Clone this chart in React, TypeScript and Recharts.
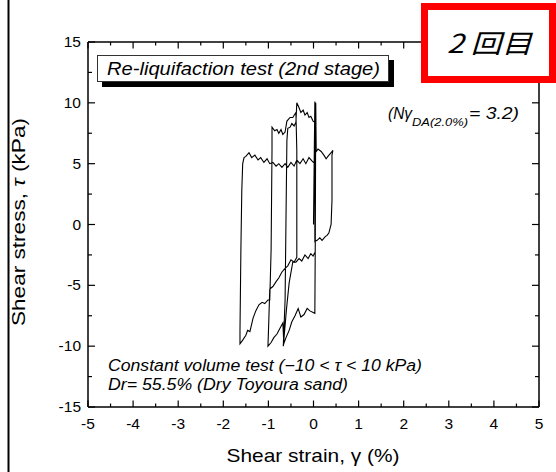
import { LineChart, Line, XAxis, YAxis } from 'recharts'

// shear strain (%) along the recorded path
const strain = [
  0.0, 0.03, 0.03, 0.08, 0.14, 0.19, 0.26, 0.3, 0.34, 0.39, 0.41, 0.41, 0.43,
  0.39, 0.32, 0.28, 0.23, 0.17, 0.1, 0.06, 0.05, 0.04, 0.03,
  -0.08, -0.14, -0.21, -0.28, -0.34, -0.41, -0.48, -0.54, -0.61, -0.66, -0.67,
  -0.63, -0.61, -0.59, -0.57,
  -0.52, -0.48, -0.43, -0.39, -0.37, -0.32, -0.28, -0.23, -0.19, -0.14, -0.1, -0.06, -0.01, 0.03, 0.03,
  -0.03, -0.1, -0.17, -0.23, -0.3, -0.37, -0.43, -0.5, -0.57, -0.63, -0.7, -0.77, -0.83, -0.9, -0.97,
  -1.03, -1.1, -1.17, -1.23, -1.3, -1.37, -1.43, -1.5, -1.54, -1.57,
  -1.59, -1.61, -1.63, -1.63,
  -1.57, -1.5, -1.46, -1.41, -1.34, -1.28, -1.21, -1.14, -1.08, -1.01, -0.97,
  -0.94, -0.92, -0.92,
  -0.86, -0.81, -0.77, -0.72, -0.68, -0.63,
  -0.59, -0.52, -0.46, -0.39,
  -0.37, -0.37, -0.37,
  -0.43, -0.5, -0.57, -0.63, -0.7, -0.77, -0.83, -0.9, -0.97, -0.99, -1.01,
  -0.94, -0.88, -0.81, -0.74, -0.68, -0.66, -0.6, -0.54, -0.46,
  -0.39, -0.32, -0.26, -0.19, -0.12, -0.06, -0.01, 0.03,
]

// shear stress (kPa) along the same path
const stress = [
  0.0, 10.1, -1.4, -1.3, -1.1, -1.3, -1.0, -0.9, -0.7, 0.0, 2.0, 5.7, 6.1,
  5.9, 5.6, 5.4, 5.7, 6.0, 6.2, 6.0, 10.0, -1.0, -7.3,
  -7.1, -6.9, -7.4, -7.6, -6.9, -7.5, -8.0, -8.7, -9.3, -9.8, -10.0,
  -6.2, 0.4, 6.9, 7.9,
  8.0, 8.3, 8.1, 8.4, 10.0, 9.6, 9.2, 9.4, 9.0, 9.2, 8.8, 8.9, 8.5, 8.4, 5.0,
  5.2, 5.5, 5.0, 5.4, 5.0, 5.3, 4.8, 5.1, 4.7, 5.0, 4.7, 5.0, 4.8, 5.1, 5.0,
  5.4, 5.1, 5.5, 5.3, 5.7, 5.5, 5.9, 5.6, 5.5, 5.0,
  2.8, -2.1, -8.7, -9.8,
  -9.5, -9.1, -8.7, -8.8, -7.7, -7.1, -6.6, -6.4, -6.5, -6.2, -6.2,
  -2.1, 6.1, 8.0,
  7.7, 7.8, 7.5, 7.8, 7.4, 7.6,
  8.5, 8.8, 8.8, 9.2,
  6.1, 0.4, -2.7,
  -3.1, -2.9, -3.4, -3.6, -3.9, -4.4, -4.7, -5.1, -5.3, -7.8, -10.0,
  -9.7, -9.3, -9.0, -8.5, -8.1, -9.6, -7.0, -4.8, -3.1,
  -3.1, -2.8, -3.0, -2.5, -2.8, -2.4, -2.6, -2.3,
]

const xTicks = [-5, -4.5, -4, -3.5, -3, -2.5, -2, -1.5, -1, -0.5, 0, 0.5, 1, 1.5, 2, 2.5, 3, 3.5, 4, 4.5, 5]
const yTicks = [-15, -12.5, -10, -7.5, -5, -2.5, 0, 2.5, 5, 7.5, 10, 12.5, 15]

const loop = strain.map((x, i) => ({ x, y: stress[i] }))
const frame = [{ x: -5, y: -15 }, { x: 5, y: 15 }]

const tickFont = "'Liberation Sans', Arial, sans-serif"
const noteFont = "'Liberation Sans', Arial, sans-serif"

function BottomTick(props: any) {
  const { x, y, payload } = props
  const major = Number.isInteger(payload.value)
  return (
    <g>
      <line x1={x} y1={y} x2={x} y2={y - (major ? 6.5 : 3.5)} stroke="#000" strokeWidth={1.2} />
      {major && (
        <text x={x} y={y + 22} textAnchor="middle" fontSize={15.5} fontFamily={tickFont} fill="#000">
          {payload.value}
        </text>
      )}
    </g>
  )
}

function TopTick(props: any) {
  const { x, y, payload } = props
  const major = Number.isInteger(payload.value)
  return <line x1={x} y1={y} x2={x} y2={y + (major ? 6.5 : 3.5)} stroke="#000" strokeWidth={1.2} />
}

function LeftTick(props: any) {
  const { x, y, payload } = props
  const major = payload.value % 5 === 0
  return (
    <g>
      <line x1={x} y1={y} x2={x + (major ? 7 : 4)} y2={y} stroke="#000" strokeWidth={1.2} />
      {major && (
        <text x={x - 7} y={y + 5} textAnchor="end" fontSize={15.5} fontFamily={tickFont} fill="#000">
          {payload.value}
        </text>
      )}
    </g>
  )
}

function RightTick(props: any) {
  const { x, y, payload } = props
  const major = payload.value % 5 === 0
  return <line x1={x} y1={y} x2={x - (major ? 7 : 4)} y2={y} stroke="#000" strokeWidth={1.2} />
}

export default function App() {
  return (
    <div style={{ position: 'absolute', left: 0, top: 0, width: 556, height: 472, background: '#fff' }}>
      <LineChart width={556} height={472} margin={{ top: 41, right: 16, bottom: 64, left: 28 }}>
        <XAxis
          xAxisId="bottom"
          type="number"
          dataKey="x"
          domain={[-5, 5]}
          ticks={xTicks}
          interval={0}
          height={1}
          tickSize={0}
          tickMargin={0}
          tickLine={false}
          axisLine={{ stroke: '#000', strokeWidth: 1.5 }}
          tick={(p: any) => <BottomTick {...p} />}
        />
        <XAxis
          xAxisId="top"
          orientation="top"
          type="number"
          dataKey="x"
          domain={[-5, 5]}
          ticks={xTicks}
          interval={0}
          height={1}
          tickSize={0}
          tickMargin={0}
          tickLine={false}
          axisLine={{ stroke: '#000', strokeWidth: 1.5 }}
          tick={(p: any) => <TopTick {...p} />}
        />
        <YAxis
          yAxisId="left"
          type="number"
          dataKey="y"
          domain={[-15, 15]}
          ticks={yTicks}
          interval={0}
          width={60}
          tickSize={0}
          tickMargin={0}
          tickLine={false}
          axisLine={{ stroke: '#000', strokeWidth: 1.5 }}
          tick={(p: any) => <LeftTick {...p} />}
        />
        <YAxis
          yAxisId="right"
          orientation="right"
          type="number"
          dataKey="y"
          domain={[-15, 15]}
          ticks={yTicks}
          interval={0}
          width={1}
          tickSize={0}
          tickMargin={0}
          tickLine={false}
          axisLine={{ stroke: '#000', strokeWidth: 1.5 }}
          tick={(p: any) => <RightTick {...p} />}
        />
        <Line
          xAxisId="top"
          yAxisId="right"
          data={frame}
          dataKey="y"
          stroke="none"
          dot={false}
          isAnimationActive={false}
        />
        <Line
          xAxisId="bottom"
          yAxisId="left"
          data={loop}
          dataKey="y"
          type="linear"
          stroke="#000"
          strokeWidth={1.1}
          dot={false}
          isAnimationActive={false}
        />
      </LineChart>

      <svg
        width={556}
        height={472}
        style={{ position: 'absolute', left: 0, top: 0, pointerEvents: 'none' }}
      >
        <line x1={8.5} y1={0} x2={8.5} y2={472} stroke="#000" strokeWidth={2} />

        <rect x={424.5} y={6.5} width={128} height={73} fill="#fff" stroke="#f00" strokeWidth={7} />
        <text
          x={447}
          y={53}
          fontSize={26}
          fontStyle="italic"
          fontFamily="'Noto Sans CJK JP', sans-serif"
          textLength={85}
          lengthAdjust="spacingAndGlyphs"
        >
          2 回目
        </text>

        <rect x={102} y={60} width={292} height={27} fill="#000" />
        <rect x={97.5} y={55.5} width={291} height={26} fill="#fff" stroke="#333" strokeWidth={1} />
        <text
          x={107}
          y={75}
          fontSize={18}
          fontStyle="italic"
          fontFamily={noteFont}
          textLength={273}
          lengthAdjust="spacingAndGlyphs"
        >
          Re-liquifaction test (2nd stage)
        </text>

        <text
          x={388}
          y={119}
          fontSize={17}
          fontStyle="italic"
          fontFamily={noteFont}
          textLength={24}
          lengthAdjust="spacingAndGlyphs"
        >
          (Nγ
        </text>
        <text
          x={412}
          y={126}
          fontSize={11}
          fontStyle="italic"
          fontFamily={noteFont}
          textLength={56}
          lengthAdjust="spacingAndGlyphs"
        >
          DA(2.0%)
        </text>
        <text
          x={469}
          y={119}
          fontSize={17}
          fontStyle="italic"
          fontFamily={noteFont}
          textLength={50}
          lengthAdjust="spacingAndGlyphs"
        >
          = 3.2)
        </text>

        <text
          x={108}
          y={371}
          fontSize={16}
          fontStyle="italic"
          fontFamily={noteFont}
          textLength={314}
          lengthAdjust="spacingAndGlyphs"
        >
          Constant volume test (−10 &lt; τ &lt; 10 kPa)
        </text>
        <text
          x={108}
          y={390}
          fontSize={16}
          fontStyle="italic"
          fontFamily={noteFont}
          textLength={240}
          lengthAdjust="spacingAndGlyphs"
        >
          Dr= 55.5% (Dry Toyoura sand)
        </text>

        <text
          x={313}
          y={462}
          textAnchor="middle"
          fontSize={19}
          fontFamily={tickFont}
          textLength={173}
          lengthAdjust="spacingAndGlyphs"
        >
          Shear strain, γ (%)
        </text>
        <text
          x={0}
          y={0}
          transform="translate(25 222) rotate(-90)"
          textAnchor="middle"
          fontSize={18}
          fontFamily={tickFont}
          textLength={208}
          lengthAdjust="spacingAndGlyphs"
        >
          Shear stress, <tspan fontStyle="italic">τ</tspan> (kPa)
        </text>
      </svg>
    </div>
  )
}
